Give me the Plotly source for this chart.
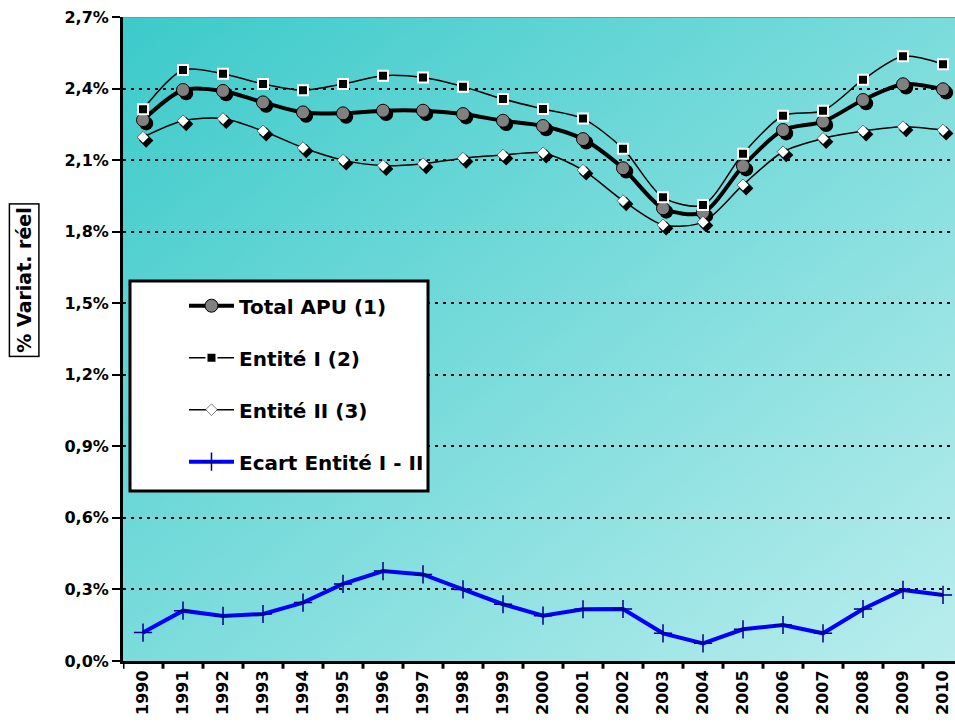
import base64
import plotly.graph_objects as go

# Real variation rates (%) by year
years = list(range(1990, 2011))
year_labels = [str(y) for y in years]

total_apu = [2.268, 2.394, 2.390, 2.342, 2.300, 2.296, 2.307, 2.307, 2.293, 2.265,
             2.243, 2.188, 2.066, 1.898, 1.880, 2.075, 2.226, 2.261, 2.352, 2.418, 2.397]
entite_1 = [2.313, 2.478, 2.462, 2.419, 2.393, 2.419, 2.454, 2.446, 2.408, 2.356,
            2.314, 2.274, 2.148, 1.944, 1.912, 2.127, 2.286, 2.307, 2.437, 2.535, 2.502]
entite_2 = [2.196, 2.265, 2.274, 2.222, 2.152, 2.100, 2.077, 2.085, 2.108, 2.121,
            2.130, 2.058, 1.930, 1.828, 1.840, 1.996, 2.135, 2.191, 2.222, 2.240, 2.226]
ecart = [0.119, 0.211, 0.189, 0.197, 0.245, 0.323, 0.377, 0.363, 0.300, 0.238,
         0.190, 0.217, 0.218, 0.116, 0.074, 0.133, 0.151, 0.116, 0.218, 0.298, 0.277]

y_ticks = [0.0, 0.3, 0.6, 0.9, 1.2, 1.5, 1.8, 2.1, 2.4, 2.7]
y_tick_labels = ["0,0%", "0,3%", "0,6%", "0,9%", "1,2%", "1,5%", "1,8%", "2,1%", "2,4%", "2,7%"]

FONT = "DejaVu Sans, Arial, sans-serif"

# small drop-shadow offset for markers (in axis units)
dx, dy = 0.08, -0.014

fig = go.Figure()

# Shadows under markers
fig.add_trace(go.Scatter(x=[x + dx for x in years], y=[v + dy for v in entite_2], mode="markers",
                         marker=dict(symbol="diamond", size=11, color="black"),
                         showlegend=False, hoverinfo="skip"))
fig.add_trace(go.Scatter(x=[x + dx for x in years], y=[v + dy for v in total_apu], mode="markers",
                         marker=dict(symbol="circle", size=14, color="black"),
                         showlegend=False, hoverinfo="skip"))

fig.add_trace(go.Scatter(
    x=years, y=total_apu, name="Total APU (1)", mode="lines+markers",
    line=dict(color="black", width=4, shape="spline", smoothing=0.8),
    marker=dict(symbol="circle", size=13, color="#808080", line=dict(color="black", width=1)),
    legendgroup="a", legendrank=1))
fig.add_trace(go.Scatter(
    x=years, y=entite_1, name="Entité I (2)", mode="lines+markers",
    line=dict(color="black", width=1.5, shape="spline", smoothing=0.8),
    marker=dict(symbol="square", size=10, color="black", line=dict(color="white", width=2)),
    legendgroup="b", legendrank=2))
fig.add_trace(go.Scatter(
    x=years, y=entite_2, name="Entité II (3)", mode="lines+markers",
    line=dict(color="black", width=1.5, shape="spline", smoothing=0.8),
    marker=dict(symbol="diamond", size=9, color="white", line=dict(color="black", width=0.5)),
    legendgroup="c", legendrank=3))
fig.add_trace(go.Scatter(
    x=years, y=ecart, name="Ecart Entité I - II", mode="lines+markers",
    line=dict(color="#0000ff", width=4),
    marker=dict(symbol="cross-thin", size=13, line=dict(color="#000080", width=1.5)),
    legendgroup="d", legendrank=4))

# diagonal gradient background for the plot area
svg = """<svg xmlns='http://www.w3.org/2000/svg' width='832' height='644' viewBox='0 0 832 644' preserveAspectRatio='none'>
<defs><linearGradient id='g' x1='0' y1='0' x2='1' y2='1'>
<stop offset='0' stop-color='#3ccaca'/><stop offset='1' stop-color='#baeded'/></linearGradient></defs>
<rect width='832' height='644' fill='url(#g)'/></svg>"""
src = "data:image/svg+xml;base64," + base64.b64encode(svg.encode()).decode()
fig.add_layout_image(dict(source=src, xref="paper", yref="paper", x=0, y=1,
                          sizex=1, sizey=1, xanchor="left", yanchor="top",
                          sizing="stretch", layer="below"))

# grey rule along the top
fig.add_shape(type="line", xref="paper", yref="y", x0=0, x1=1, y0=2.7, y1=2.7,
              line=dict(color="#909090", width=2), layer="below")

# white framed panel behind the legend entries
fig.add_shape(type="rect", xref="paper", yref="paper", x0=0.0084, x1=0.3666, y0=0.264, y1=0.590,
              line=dict(color="black", width=3), fillcolor="white", layer="above")

# boxed y-axis title
fig.add_annotation(text="<b>% Variat. réel</b>", xref="paper", yref="paper",
                   x=-0.1185, y=0.592, xanchor="center", yanchor="middle",
                   textangle=-90, showarrow=False,
                   font=dict(family=FONT, size=19, color="black"),
                   bordercolor="black", borderwidth=1.5, borderpad=3, bgcolor="white")

fig.update_layout(
    width=955, height=722,
    margin=dict(l=123, r=0, t=17, b=61),
    paper_bgcolor="white",
    plot_bgcolor="rgba(0,0,0,0)",
    font=dict(family=FONT, color="black"),
    showlegend=True,
    legend=dict(x=0.0733, y=0.582, xanchor="left", yanchor="top",
                bgcolor="rgba(0,0,0,0)", borderwidth=0,
                font=dict(family=FONT, size=20, color="black", weight="bold"),
                tracegroupgap=23, itemwidth=45, traceorder="grouped"),
)

fig.update_xaxes(
    range=[1989.5, 2010.3], tickmode="array", tickvals=years, ticktext=year_labels,
    tickangle=-90, tickfont=dict(family=FONT, size=16, color="black", weight="bold"),
    showgrid=False, zeroline=False, showline=True, linecolor="black", linewidth=3,
    ticks="", fixedrange=True,
)
fig.update_yaxes(
    range=[0, 2.7], tickmode="array", tickvals=y_ticks, ticktext=y_tick_labels,
    tickfont=dict(family=FONT, size=16, color="black", weight="bold"),
    showgrid=True, gridcolor="black", gridwidth=2, griddash="3px,5px",
    zeroline=False, showline=True, linecolor="black", linewidth=3,
    ticks="outside", ticklen=8, tickwidth=2, tickcolor="black",
)

# tick marks between categories on the x-axis
for k in range(len(years) + 1):
    fig.add_shape(type="line", xref="x", yref="paper", x0=1989.5 + k, x1=1989.5 + k,
                  y0=0, y1=-0.012, line=dict(color="black", width=3))

fig.write_html("out.html")
